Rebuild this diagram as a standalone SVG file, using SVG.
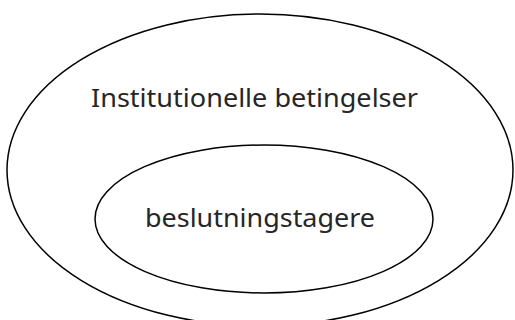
<svg xmlns="http://www.w3.org/2000/svg" width="515" height="320" viewBox="0 0 515 320">
<style>
.e{fill:none;stroke:#000;stroke-width:1.5}
.t{font-family:"Noto Sans","Open Sans",sans-serif;font-size:25px;fill:#262626}
</style>
<rect width="515" height="320" fill="#fff"/>
<g id="outer">
<ellipse class="e" cx="260" cy="170" rx="253" ry="156"/>
<text class="t" x="91" y="107" textLength="327" lengthAdjust="spacingAndGlyphs">Institutionelle betingelser</text>
</g>
<g id="inner">
<ellipse class="e" cx="264" cy="219" rx="169" ry="74"/>
<text class="t" x="145" y="227" textLength="230" lengthAdjust="spacingAndGlyphs">beslutningstagere</text>
</g>
<g id="connectors"/>
</svg>
